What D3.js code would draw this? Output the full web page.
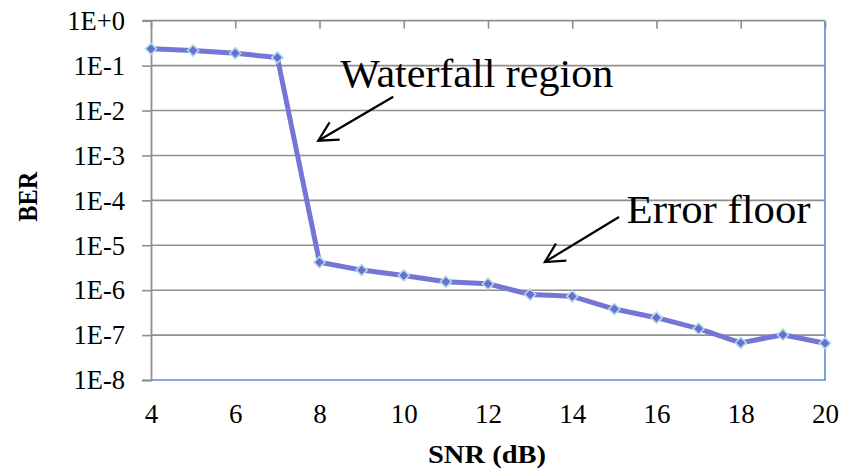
<!DOCTYPE html>
<html><head><meta charset="utf-8">
<script src="https://cdn.jsdelivr.net/npm/d3@7"></script>
<style>html,body{margin:0;padding:0;background:#fff;}svg{display:block;}</style>
</head><body>
<svg id="chart" width="850" height="470"></svg>
<script>
const snr = [4,5,6,7,8,9,10,11,12,13,14,15,16,17,18,19,20];
const ber = [0.236,0.217,0.189,0.151,4.2e-6,2.8e-6,2.13e-6,1.54e-6,1.39e-6,8.0e-7,7.3e-7,3.8e-7,2.44e-7,1.39e-7,6.7e-8,1.02e-7,6.6e-8];
const xTicks = [4,6,8,10,12,14,16,18,20];
const yTicks = [1,1e-1,1e-2,1e-3,1e-4,1e-5,1e-6,1e-7,1e-8];
const yTickLabels = ["1E+0","1E-1","1E-2","1E-3","1E-4","1E-5","1E-6","1E-7","1E-8"];
const annotations = [
  {text:"Waterfall region", x:8.49, y:0.0339, width:273, from:[9.75,0.0203], to:[7.97,0.00213]},
  {text:"Error floor", x:15.29, y:3.08e-5, width:184, from:[15.11,4.26e-5], to:[13.35,4.24e-6]}
];

const FONT = '"Liberation Serif","Times New Roman",Tinos,"DejaVu Serif",serif';
const svg = d3.select("#chart");
const L=151, R=825, T=20.7, B=380;
const x = d3.scaleLinear().domain([4,20]).range([L,R]);
const y = d3.scaleLog().domain([1e-8,1]).range([B,T]);
const gray = "#8f8f8f", blue = "#5b8dd2";

// gridlines
svg.append("g").selectAll("line").data(yTicks.filter(d=>d<1 && d>1e-8)).join("line")
  .attr("x1",L).attr("x2",R).attr("y1",d=>y(d)).attr("y2",d=>y(d))
  .attr("stroke",gray).attr("stroke-width",1.6);

// top axis (gray with downward ticks)
const topAxis = svg.append("g").attr("transform",`translate(0,${T})`)
  .call(d3.axisBottom(x).tickValues(xTicks).tickSize(8).tickFormat(""));
topAxis.select(".domain").remove();
topAxis.selectAll("line").attr("stroke",gray).attr("stroke-width",1.6);
svg.append("line").attr("x1",L-8).attr("x2",R).attr("y1",T).attr("y2",T).attr("stroke",gray).attr("stroke-width",1.8);

// right border & bottom (blue)
svg.append("line").attr("x1",R).attr("x2",R).attr("y1",T+1).attr("y2",B).attr("stroke",blue).attr("stroke-width",1.6);
svg.append("line").attr("x1",L).attr("x2",R+0.8).attr("y1",B).attr("y2",B).attr("stroke",blue).attr("stroke-width",1.6);

// left axis
const yAxis = svg.append("g").attr("transform",`translate(${L},0)`)
  .call(d3.axisLeft(y).tickValues(yTicks).tickSize(9).tickPadding(17)
    .tickFormat((d,i)=>yTickLabels[i]));
yAxis.attr("font-family",FONT).attr("font-size",26.5);
yAxis.select(".domain").attr("stroke",gray).attr("stroke-width",1.8);
yAxis.selectAll(".tick line").attr("stroke",gray).attr("stroke-width",1.6);
yAxis.selectAll("text").style("font-family",FONT).style("font-size","26.5px").attr("fill","#000").attr("dy","0.33em");

// bottom axis labels
const xAxis = svg.append("g").attr("transform",`translate(0,${B})`)
  .call(d3.axisBottom(x).tickValues(xTicks).tickSize(0).tickPadding(24).tickFormat(d3.format("d")));
xAxis.attr("font-family",FONT).attr("font-size",27);
xAxis.select(".domain").remove();
xAxis.selectAll("text").style("font-family",FONT).style("font-size","27px").attr("fill","#000").attr("dy","0.71em");

// axis titles
svg.append("text").style("font-family",FONT).attr("x",487).attr("y",462.7).attr("text-anchor","middle")
  .style("font-weight","bold").style("font-size","25px")
  .attr("textLength",118).attr("lengthAdjust","spacingAndGlyphs").text("SNR (dB)");
svg.append("text").style("font-family",FONT).attr("transform","translate(37,196.7) rotate(-90)").attr("text-anchor","middle")
  .style("font-weight","bold").style("font-size","28px")
  .attr("textLength",50).attr("lengthAdjust","spacingAndGlyphs").text("BER");

// line
const line = d3.line().x((d,i)=>x(snr[i])).y(d=>y(d));
svg.append("path").datum(ber).attr("d",line).attr("fill","none")
  .attr("stroke","#7575d6").attr("stroke-width",5).attr("stroke-linejoin","round");
svg.append("g").selectAll("path").data(ber).join("path")
  .attr("transform",(d,i)=>`translate(${x(snr[i])},${y(d)})`)
  .attr("d",d3.symbol(d3.symbolDiamond2,78))
  .attr("fill","#6c6cd2").attr("stroke","#a9dde2").attr("stroke-width",1.6);

// annotations
svg.append("defs").append("marker").attr("id","ah").attr("viewBox","0 0 24 24").attr("refX",21).attr("refY",12)
  .attr("markerWidth",24).attr("markerHeight",24).attr("markerUnits","userSpaceOnUse").attr("orient","auto")
  .append("path").attr("d","M2,2 L21,12 L2,22").attr("fill","none").attr("stroke","#000").attr("stroke-width",2.2);
annotations.forEach(a=>{
  svg.append("text").style("font-family",FONT).attr("x",x(a.x)).attr("y",y(a.y)).style("font-size","40px")
    .attr("textLength",a.width).attr("lengthAdjust","spacingAndGlyphs")
    .attr("fill","#000").text(a.text);
  svg.append("line").attr("x1",x(a.from[0])).attr("y1",y(a.from[1])).attr("x2",x(a.to[0])).attr("y2",y(a.to[1]))
    .attr("stroke","#000").attr("stroke-width",2.2).attr("marker-end","url(#ah)");
});
</script>
</body></html>
